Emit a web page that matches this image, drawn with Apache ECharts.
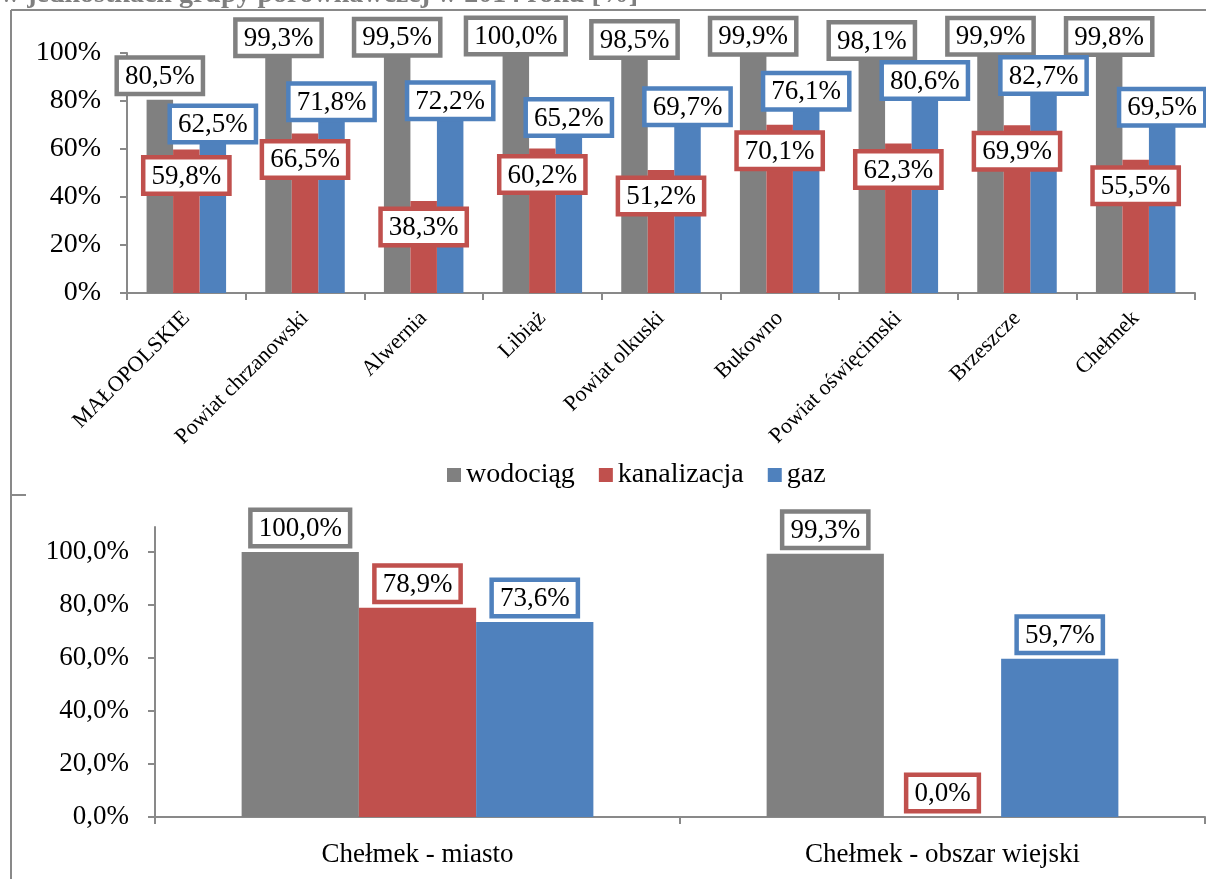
<!DOCTYPE html>
<html><head><meta charset="utf-8">
<script src="https://cdn.jsdelivr.net/npm/echarts@6/dist/echarts.min.js"></script>
<style>html,body{margin:0;padding:0;background:#fff}#c{width:1206px;height:879px}</style>
</head><body><div id="c"></div>
<script>
const categories = ['MAŁOPOLSKIE','Powiat chrzanowski','Alwernia','Libiąż','Powiat olkuski','Bukowno','Powiat oświęcimski','Brzeszcze','Chełmek'];
const wodociag = [80.5, 99.3, 99.5, 100.0, 98.5, 99.9, 98.1, 99.9, 99.8];
const kanalizacja = [59.8, 66.5, 38.3, 60.2, 51.2, 70.1, 62.3, 69.9, 55.5];
const gaz = [62.5, 71.8, 72.2, 65.2, 69.7, 76.1, 80.6, 82.7, 69.5];
const categories2 = ['Chełmek - miasto','Chełmek - obszar wiejski'];
const wodociag2 = [100.0, 99.3];
const kanalizacja2 = [78.9, 0.0];
const gaz2 = [73.6, 59.7];
const seriesNames = ['wodociąg','kanalizacja','gaz'];
const yTicksTop = [0, 20, 40, 60, 80, 100];
const yTicksBottom = [0, 20, 40, 60, 80, 100];
const titleText = 'w jednostkach grupy porównawczej w 2014 roku [%]';

const FONT = 'Liberation Serif';
const COLORS = ['#808080', '#C0504D', '#4F81BD'];
const AXIS = '#898989';
const fmt = v => v.toFixed(1).replace('.', ',') + '%';

function boxLabel(color, position, distance) {
  return {
    show: true, position: position, distance: distance,
    formatter: p => fmt(p.value),
    fontFamily: FONT, fontSize: 27, color: '#000', lineHeight: 28,
    backgroundColor: '#fff', borderColor: color, borderWidth: 4.5,
    borderRadius: 0, padding: [3, 6, 1, 6]
  };
}

const chart = echarts.init(document.getElementById('c'));
const axisLineStyle = { show: true, lineStyle: { color: AXIS, width: 2 } };
const axisTickStyle = { show: true, length: 7, lineStyle: { color: AXIS, width: 2 } };

const option = {
  animation: false,
  backgroundColor: '#fff',
  color: COLORS,
  legend: {
    data: seriesNames,
    left: 442, top: 456,
    icon: 'rect', itemWidth: 14, itemHeight: 14, itemGap: 24,
    textStyle: { fontFamily: FONT, fontSize: 28, color: '#000', padding: [0, 0, 0, 0] }
  },
  grid: [
    { left: 127, right: 11, top: 53, height: 240 },
    { left: 155, right: 1, top: 527, height: 290 }
  ],
  xAxis: [
    {
      type: 'category', gridIndex: 0, data: categories,
      axisLine: axisLineStyle, axisTick: axisTickStyle,
      axisLabel: { interval: 0, rotate: 45, margin: 22, fontFamily: FONT, fontSize: 22, color: '#000' }
    },
    {
      type: 'category', gridIndex: 1, data: categories2,
      axisLine: axisLineStyle, axisTick: axisTickStyle,
      axisLabel: { interval: 0, margin: 24, fontFamily: FONT, fontSize: 27, color: '#000' }
    }
  ],
  yAxis: [
    {
      type: 'value', gridIndex: 0, min: 0, max: 100, interval: 20,
      axisLine: axisLineStyle, axisTick: Object.assign({}, axisTickStyle, { customValues: yTicksTop }),
      splitLine: { show: false },
      axisLabel: { customValues: yTicksTop, margin: 26, fontFamily: FONT, fontSize: 28, color: '#000', formatter: v => v.toFixed(0) + '%' }
    },
    {
      type: 'value', gridIndex: 1, min: 0, max: 109.4, interval: 20,
      axisLine: axisLineStyle, axisTick: Object.assign({}, axisTickStyle, { customValues: yTicksBottom }),
      splitLine: { show: false },
      axisLabel: { customValues: yTicksBottom, margin: 26, fontFamily: FONT, fontSize: 27, color: '#000', formatter: v => fmt(v) }
    }
  ],
  series: [
    {
      name: seriesNames[0], type: 'bar', xAxisIndex: 0, yAxisIndex: 0,
      barGap: '0%', barCategoryGap: '33%',
      data: wodociag.map(v => ({ value: v, label: { distance: v > 95 ? 1 : 8 } })),
      label: boxLabel(COLORS[0], 'top', 8), z: 2
    },
    {
      name: seriesNames[1], type: 'bar', xAxisIndex: 0, yAxisIndex: 0,
      barGap: '0%', barCategoryGap: '33%',
      data: kanalizacja,
      label: boxLabel(COLORS[1], 'insideTop', 10), z: 3
    },
    {
      name: seriesNames[2], type: 'bar', xAxisIndex: 0, yAxisIndex: 0,
      barGap: '0%', barCategoryGap: '33%',
      data: gaz,
      label: boxLabel(COLORS[2], 'top', 3), z: 2
    },
    {
      name: seriesNames[0], type: 'bar', xAxisIndex: 1, yAxisIndex: 1,
      barGap: '0%', barCategoryGap: '33%',
      data: wodociag2, label: boxLabel(COLORS[0], 'top', 8)
    },
    {
      name: seriesNames[1], type: 'bar', xAxisIndex: 1, yAxisIndex: 1,
      barGap: '0%', barCategoryGap: '33%',
      data: kanalizacja2, label: boxLabel(COLORS[1], 'top', 8)
    },
    {
      name: seriesNames[2], type: 'bar', xAxisIndex: 1, yAxisIndex: 1,
      barGap: '0%', barCategoryGap: '33%',
      data: gaz2, label: boxLabel(COLORS[2], 'top', 8)
    }
  ],
  graphic: [
    { type: 'line', shape: { x1: 11, y1: 10, x2: 1206, y2: 10 }, style: { stroke: AXIS, lineWidth: 2 }, z: 100 },
    { type: 'line', shape: { x1: 11, y1: 10, x2: 11, y2: 879 }, style: { stroke: AXIS, lineWidth: 2 }, z: 100 },
    { type: 'line', shape: { x1: 11, y1: 495, x2: 26, y2: 495 }, style: { stroke: AXIS, lineWidth: 2 }, z: 100 },
    { type: 'text', left: 0, top: -19, z: 90,
      style: { text: titleText, fontFamily: FONT, fontWeight: 'bold', fontSize: 28, fill: '#7f7f7f' } }
  ]
};
chart.setOption(option);
</script>
</body></html>
